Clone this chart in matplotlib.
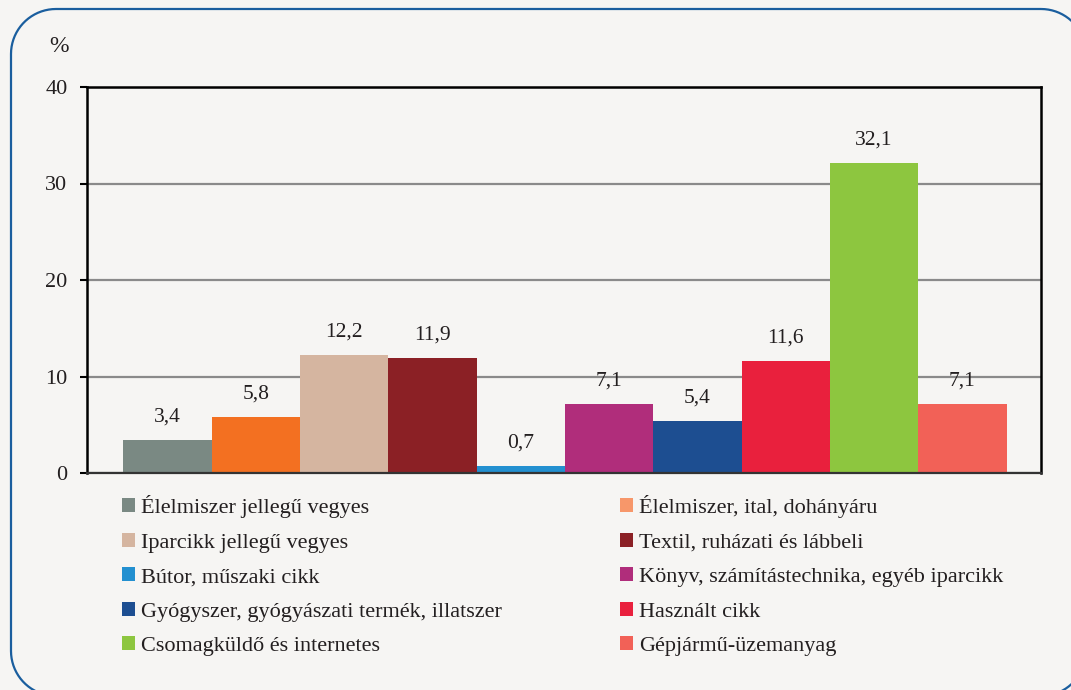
import numpy as np
import matplotlib
matplotlib.use("Agg")
from matplotlib import pyplot as plt
from matplotlib.patches import Patch, PathPatch
from matplotlib.path import Path

categories = [
    "Élelmiszer jellegű vegyes",
    "Élelmiszer, ital, dohányáru",
    "Iparcikk jellegű vegyes",
    "Textil, ruházati és lábbeli",
    "Bútor, műszaki cikk",
    "Könyv, számítástechnika, egyéb iparcikk",
    "Gyógyszer, gyógyászati termék, illatszer",
    "Használt cikk",
    "Csomagküldő és internetes",
    "Gépjármű-üzemanyag",
]
values = [3.4, 5.8, 12.2, 11.9, 0.7, 7.1, 5.4, 11.6, 32.1, 7.1]
value_labels = ["3,4", "5,8", "12,2", "11,9", "0,7", "7,1", "5,4", "11,6", "32,1", "7,1"]
bar_colors = ["#7A8983", "#F37021", "#D5B5A0", "#8B2025", "#2390D0",
              "#B02D7B", "#1D4E91", "#E9203D", "#8DC63F", "#F26157"]
# the legend swatch of the 2nd item is lighter than its bar in the original
legend_colors = ["#7A8983", "#F7976A", "#D5B5A0", "#8B2025", "#2390D0",
                 "#B02D7B", "#1D4E91", "#E9203D", "#8DC63F", "#F26157"]
y_ticks = [0, 10, 20, 30, 40]

BG = "#F6F5F3"
TXT = "#231F20"
plt.rcParams["font.family"] = ["Liberation Serif", "DejaVu Serif"]


def rounded_rect_path(x0, y0, x1, y1, r):
    """closed rounded rectangle, built from straight sides and circular corners"""
    pts = []
    corners = [((x1 - r, y1 - r), 90, 0), ((x1 - r, y0 + r), 0, -90),
               ((x0 + r, y0 + r), -90, -180), ((x0 + r, y1 - r), 180, 90)]
    for (cx, cy), a0, a1 in corners:
        t = np.radians(np.linspace(a0, a1, 20))
        pts.extend(zip(cx + r * np.cos(t), cy + r * np.sin(t)))
    pts.append(pts[0])
    return Path(pts)


fig = plt.figure(figsize=(10.71, 6.90), dpi=100, facecolor=BG)

# overlay in pixel units (y up), only for the rounded frame
frame_ax = fig.add_axes([0, 0, 1, 1])
frame_ax.set_xlim(0, 1071)
frame_ax.set_ylim(0, 690)
frame_ax.set_autoscale_on(False)
frame_ax.axis("off")
frame_ax.add_patch(PathPatch(rounded_rect_path(11, -6, 1086, 681, 45),
                             facecolor="none", edgecolor="#1A5E9E",
                             linewidth=1.6, clip_on=False))

ax = fig.add_axes([87 / 1071, 217 / 690, 954 / 1071, 386 / 690])
ax.set_facecolor(BG)

x = list(range(len(values)))
bars = ax.bar(x, values, width=1.0, color=bar_colors, zorder=3)

for xi, v, lab in zip(x, values, value_labels):
    ax.annotate(lab, (xi, v), xytext=(0, 13.5), textcoords="offset points",
                ha="center", va="baseline", fontsize=15.5, color=TXT)

ax.set_xlim(-0.91, 9.89)
ax.set_ylim(0, 40)
ax.set_yticks(y_ticks)
ax.set_yticklabels([str(t) for t in y_ticks], fontsize=16, color=TXT)
ax.tick_params(axis="y", length=5, width=1.5, pad=9, color="black")
ax.tick_params(axis="x", bottom=False, labelbottom=False)
ax.yaxis.grid(True, color="#8A8A8A", linewidth=1.6, zorder=1)
for side in ["left", "top", "right"]:
    ax.spines[side].set_color("black")
    ax.spines[side].set_linewidth(1.8)
ax.spines["bottom"].set_color("#333333")
ax.spines["bottom"].set_linewidth(1.6)
ax.spines["bottom"].set_zorder(4)

fig.text(59 / 1071, 1 - 47 / 690, "%", ha="center", va="center",
         fontsize=17, color=TXT)

# legend: two columns, row-major order
handles = [Patch(facecolor=c, edgecolor="none") for c in legend_colors]
leg_kw = dict(frameon=False, fontsize=16, handlelength=0.6, handleheight=0.6,
              handletextpad=0.25, labelspacing=0.66, borderpad=0, borderaxespad=0,
              loc="upper left", labelcolor=TXT)
fig.legend(handles[0::2], categories[0::2],
           bbox_to_anchor=(122 / 1071, 1 - 495 / 690), **leg_kw)
fig.legend(handles[1::2], categories[1::2],
           bbox_to_anchor=(620 / 1071, 1 - 495 / 690), **leg_kw)

fig.savefig("out.png", dpi=100, facecolor=BG)
